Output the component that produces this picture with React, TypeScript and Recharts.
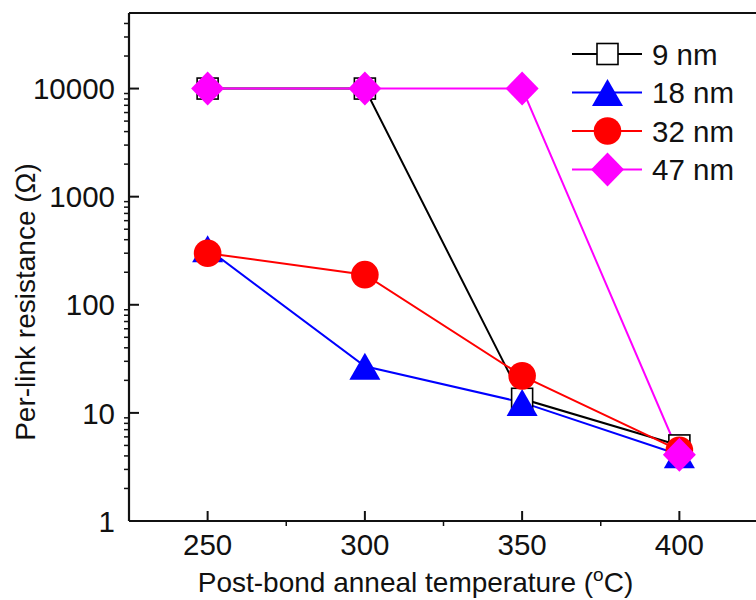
import { LineChart, Line, XAxis, YAxis, ReferenceLine } from 'recharts';

const temps = [250, 300, 350, 400];
const r9 = [10000, 10000, 13.5, 5];
const r18 = [330, 27, 12.5, 4.1];
const r32 = [300, 190, 22, 4.5];
const r47 = [10000, 10000, 10000, 4.1];

const xMajor = [250, 300, 350, 400];
const xMinor = [275, 325, 375];
const yMajor = [1, 10, 100, 1000, 10000];
const yMinor = [
  2, 3, 4, 5, 6, 7, 8, 9, 20, 30, 40, 50, 60, 70, 80, 90, 200, 300, 400, 500, 600, 700, 800, 900,
  2000, 3000, 4000, 5000, 6000, 7000, 8000, 9000, 20000, 30000, 40000,
];

const series = [
  { key: 'r9', name: '9 nm', color: '#000000', shape: 'square' },
  { key: 'r18', name: '18 nm', color: '#0000ff', shape: 'triangle' },
  { key: 'r32', name: '32 nm', color: '#ff0000', shape: 'circle' },
  { key: 'r47', name: '47 nm', color: '#ff00ff', shape: 'diamond' },
];

const data = temps.map((t, i) => ({
  t,
  r9: r9[i],
  r18: r18[i],
  r32: r32[i],
  r47: r47[i],
}));

const FONT = '"Liberation Sans", Arial, sans-serif';
const FS = 29.5;
const TITLE_FS = 28;
const AXIS = '#111';

function marker(shape: string, color: string, cx: number, cy: number) {
  if (shape === 'square')
    return <rect x={cx - 10.5} y={cy - 10.5} width={21} height={21} fill="#fff" stroke={color} strokeWidth={1.6} />;
  if (shape === 'triangle')
    return <polygon points={`${cx},${cy - 13.5} ${cx + 15.5},${cy + 13.5} ${cx - 15.5},${cy + 13.5}`} fill={color} />;
  if (shape === 'circle') return <circle cx={cx} cy={cy} r={13.8} fill={color} />;
  return <polygon points={`${cx},${cy - 17} ${cx + 16.5},${cy} ${cx},${cy + 17} ${cx - 16.5},${cy}`} fill={color} />;
}

const LeftTick = (props: any) => {
  const { x, y, payload } = props;
  if (!yMajor.includes(payload.value)) return <line x1={x - 5} x2={x} y1={y} y2={y} stroke={AXIS} strokeWidth={1.5} />;
  return (
    <g>
      <line x1={x} x2={x + 10} y1={y} y2={y} stroke={AXIS} strokeWidth={2} />
      <text x={x - 14} y={y} dy="0.36em" textAnchor="end" fontSize={FS} fontFamily={FONT} fill="#111">
        {payload.value}
      </text>
    </g>
  );
};

const RightTick = (props: any) => {
  const { x, y, payload } = props;
  const len = yMajor.includes(payload.value) ? 10 : 5;
  return <line x1={x - len} x2={x} y1={y} y2={y} stroke={AXIS} strokeWidth={1.5} />;
};

const BottomTick = (props: any) => {
  const { x, y, payload } = props;
  if (!xMajor.includes(payload.value)) return <line x1={x} x2={x} y1={y} y2={y + 5} stroke={AXIS} strokeWidth={1.5} />;
  return (
    <g>
      <line x1={x} x2={x} y1={y} y2={y - 10} stroke={AXIS} strokeWidth={2} />
      <text x={x} y={y + 34} textAnchor="middle" fontSize={FS} fontFamily={FONT} fill="#111">
        {payload.value}
      </text>
    </g>
  );
};

const XTitle = (props: any) => {
  const { viewBox } = props;
  const cx = viewBox.x + viewBox.width / 2 - 28;
  return (
    <text x={cx} y={viewBox.y + 71} textAnchor="middle" fontSize={TITLE_FS} fontFamily={FONT} fill="#111">
      Post-bond anneal temperature (
      <tspan fontSize={19} dy={-11}>o</tspan>
      <tspan dy={11}>C)</tspan>
    </text>
  );
};

const YTitle = () => (
  <text transform="translate(35, 302) rotate(-90)" textAnchor="middle" fontSize={TITLE_FS} fontFamily={FONT} fill="#111">
    Per-link resistance (Ω)
  </text>
);

const LegendBox = () => (
  <svg width={190} height={165} style={{ display: 'block' }}>
    {series.map((s, i) => {
      const cy = 24 + i * 38.5;
      return (
        <g key={s.key}>
          <line x1={1} x2={71} y1={cy} y2={cy} stroke={s.color} strokeWidth={2} />
          {marker(s.shape, s.color, 36.5, cy)}
          <text x={81} y={cy} dy="0.36em" fontSize={FS} fontFamily={FONT} fill="#111">
            {s.name}
          </text>
        </g>
      );
    })}
  </svg>
);

export default function App() {
  return (
    <div style={{ position: 'absolute', left: 0, top: 0, width: 756, height: 600, overflow: 'hidden', background: '#fff' }}>
      <LineChart width={760} height={600} data={data} margin={{ top: 13, right: 2, bottom: 0, left: 0 }}>
        <XAxis
          dataKey="t"
          type="number"
          domain={[225, 425]}
          ticks={[...xMajor, ...xMinor].sort((a, b) => a - b)}
          interval={0}
          tick={<BottomTick />}
          tickLine={false}
          tickSize={0}
          tickMargin={0}
          height={79}
          stroke={AXIS}
          axisLine={{ stroke: AXIS, strokeWidth: 2.2 }}
          label={<XTitle />}
        />
        <YAxis
          type="number"
          scale="log"
          domain={[1, 50000]}
          allowDataOverflow
          ticks={[...yMajor, ...yMinor].sort((a, b) => a - b)}
          interval={0}
          tick={<LeftTick />}
          tickLine={false}
          tickSize={0}
          tickMargin={0}
          width={129}
          stroke={AXIS}
          axisLine={{ stroke: AXIS, strokeWidth: 2.2 }}
          label={<YTitle />}
        />
        <YAxis
          yAxisId="right"
          orientation="right"
          type="number"
          scale="log"
          domain={[1, 50000]}
          allowDataOverflow
          ticks={[...yMajor, ...yMinor].sort((a, b) => a - b)}
          interval={0}
          tick={<RightTick />}
          tickLine={false}
          tickSize={0}
          tickMargin={0}
          width={0}
          stroke={AXIS}
          axisLine={{ stroke: AXIS, strokeWidth: 2.2 }}
        />
        <ReferenceLine y={50000} stroke={AXIS} strokeWidth={2.2} ifOverflow="visible" />
        {series.map((s) => (
          <Line
            key={s.key}
            dataKey={s.key}
            name={s.name}
            stroke={s.color}
            strokeWidth={2}
            isAnimationActive={false}
            activeDot={false}
            dot={(p: any) => <g key={`${s.key}-${p.index}`}>{marker(s.shape, s.color, p.cx, p.cy)}</g>}
          />
        ))}
      </LineChart>
      <div style={{ position: 'absolute', left: 571, top: 30 }}>
        <LegendBox />
      </div>
    </div>
  );
}
